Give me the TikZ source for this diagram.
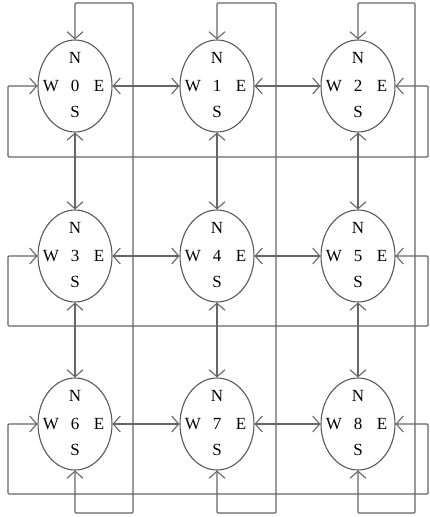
\documentclass[tikz,border=0pt]{standalone}
\usepackage{fontspec}
\setmainfont{Liberation Serif}
\usetikzlibrary{arrows.meta,shapes.geometric}

\begin{document}
\begin{tikzpicture}[x=1pt,y=-1pt,
      line width=1.1pt,
      >={Straight Barb[length=7pt,width=16pt]},
      lbl/.style={font=\fontsize{17}{17}\selectfont,text=black,inner sep=0pt},
      r/.style={ellipse,draw=black!65,minimum width=74pt,minimum height=92pt,inner sep=0pt,
        font=\fontsize{17}{17}\selectfont,text=black,
        label={[lbl,yshift=28pt]center:N},label={[lbl,yshift=-26pt]center:S},
        label={[lbl,xshift=-24pt]center:W},label={[lbl,xshift=24pt]center:E}},
      wrap/.style={<->,draw=black!60,rounded corners=1pt},
      every edge/.style={<->,draw=black!60}
    ]
      \useasboundingbox (0,0) rectangle (430,517);
      \node[r] (0) at (75,86) {0};
      \node[r] (1) at (217,86) {1};
      \node[r] (2) at (358,86) {2};
      \node[r] (3) at (75,256) {3};
      \node[r] (4) at (217,256) {4};
      \node[r] (5) at (358,256) {5};
      \node[r] (6) at (75,424) {6};
      \node[r] (7) at (217,424) {7};
      \node[r] (8) at (358,424) {8};
      % neighbours
      \draw (0.east) edge (1.west) (1.east) edge (2.west)
            (3.east) edge (4.west) (4.east) edge (5.west)
            (6.east) edge (7.west) (7.east) edge (8.west);
      \draw (0.south) edge (3.north) (3.south) edge (6.north)
            (1.south) edge (4.north) (4.south) edge (7.north)
            (2.south) edge (5.north) (5.south) edge (8.north);
      % wrap-around links, columns
      \draw[wrap] (0.north) |- (133,3) -- (133,513) -| (6.south);
      \draw[wrap] (1.north) |- (276,3) -- (276,513) -| (7.south);
      \draw[wrap] (2.north) |- (415,3) -- (415,513) -| (8.south);
      % wrap-around links, rows
      \draw[wrap] (0.west) -| (8,157) -- (428,157) |- (2.east);
      \draw[wrap] (3.west) -| (8,326) -- (428,326) |- (5.east);
      \draw[wrap] (6.west) -| (8,494) -- (428,494) |- (8.east);
    \end{tikzpicture}
\end{document}
